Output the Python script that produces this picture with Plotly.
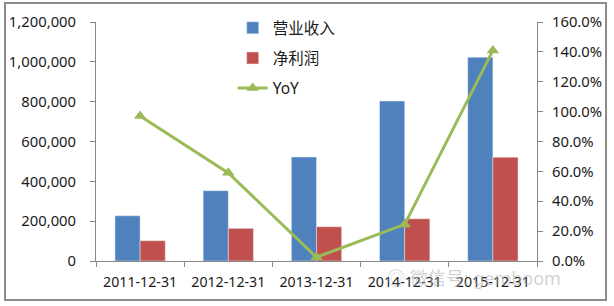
import plotly.graph_objects as go

categories = ["2011-12-31", "2012-12-31", "2013-12-31", "2014-12-31", "2015-12-31"]
revenue = [227000, 353000, 522000, 803000, 1023000]
net_profit = [102000, 164000, 172000, 212000, 521000]
yoy = [0.97, 0.59, 0.025, 0.245, 1.41]

left_ticks = [0, 200000, 400000, 600000, 800000, 1000000, 1200000]
left_labels = ["0", "200,000", "400,000", "600,000", "800,000", "1,000,000", "1,200,000"]
right_ticks = [0, 0.2, 0.4, 0.6, 0.8, 1.0, 1.2, 1.4, 1.6]
right_labels = ["0.0%", "20.0%", "40.0%", "60.0%", "80.0%", "100.0%", "120.0%", "140.0%", "160.0%"]

FONT = "Noto Sans, Noto Sans CJK SC, sans-serif"

fig = go.Figure()
fig.add_trace(go.Bar(x=categories, y=revenue, name="营业收入", marker_color="#4F81BD",
                     legendgroup="a"))
fig.add_trace(go.Bar(x=categories, y=net_profit, name="净利润", marker_color="#C0504D",
                     legendgroup="b"))
fig.add_trace(go.Scatter(x=categories, y=yoy, name="YoY", yaxis="y2", mode="lines+markers",
                         line=dict(color="#9BBB59", width=3),
                         marker=dict(symbol="triangle-up", size=11, color="#9BBB59"),
                         legendgroup="c"))

axis_line = "#868686"
fig.update_layout(
    width=614, height=306,
    margin=dict(l=96, r=77, t=22, b=45, autoexpand=False),
    paper_bgcolor="white", plot_bgcolor="white",
    font=dict(family=FONT, size=14, color="#1a1a1a"),
    barmode="group", bargap=0.43, bargroupgap=0,
    showlegend=True,
    legend=dict(x=0.31, y=1.045, xanchor="left", yanchor="top",
                bgcolor="rgba(0,0,0,0)", font=dict(size=15.5, family=FONT),
                traceorder="grouped", tracegroupgap=7),
    xaxis=dict(type="category", showgrid=False, showline=True, linecolor=axis_line,
               ticks="outside", tickson="boundaries", ticklen=5, tickcolor=axis_line,
               tickfont=dict(size=14.2), ticklabelstandoff=8, automargin=False),
    yaxis=dict(range=[0, 1200000], tickvals=left_ticks, ticktext=left_labels,
               showgrid=False, showline=True, linecolor=axis_line, ticks="outside",
               ticklen=5, tickcolor=axis_line, zeroline=False, tickfont=dict(size=14.8),
               ticklabelstandoff=11, automargin=False),
    yaxis2=dict(range=[0, 1.6], tickvals=right_ticks, ticktext=right_labels,
                overlaying="y", side="right", showgrid=False, showline=True,
                linecolor=axis_line, ticks="outside", ticklen=5, tickcolor=axis_line,
                zeroline=False, tickfont=dict(size=14.8), ticklabelstandoff=6,
                automargin=False),
    shapes=[dict(type="rect", xref="paper", yref="paper",
                 x0=-0.2063, x1=1.1565, y0=-0.1632, y1=1.0795,
                 line=dict(color="#8c8c8c", width=2), fillcolor="rgba(0,0,0,0)", layer="below")],
    annotations=[dict(xref="paper", yref="paper", x=0.655, y=-0.07, xanchor="left",
                      yanchor="middle", showarrow=False, text="◎ 微信号: gemboom",
                      font=dict(size=18, color="rgba(170,170,170,0.55)", family=FONT))],
)

fig.write_html("out.html")
